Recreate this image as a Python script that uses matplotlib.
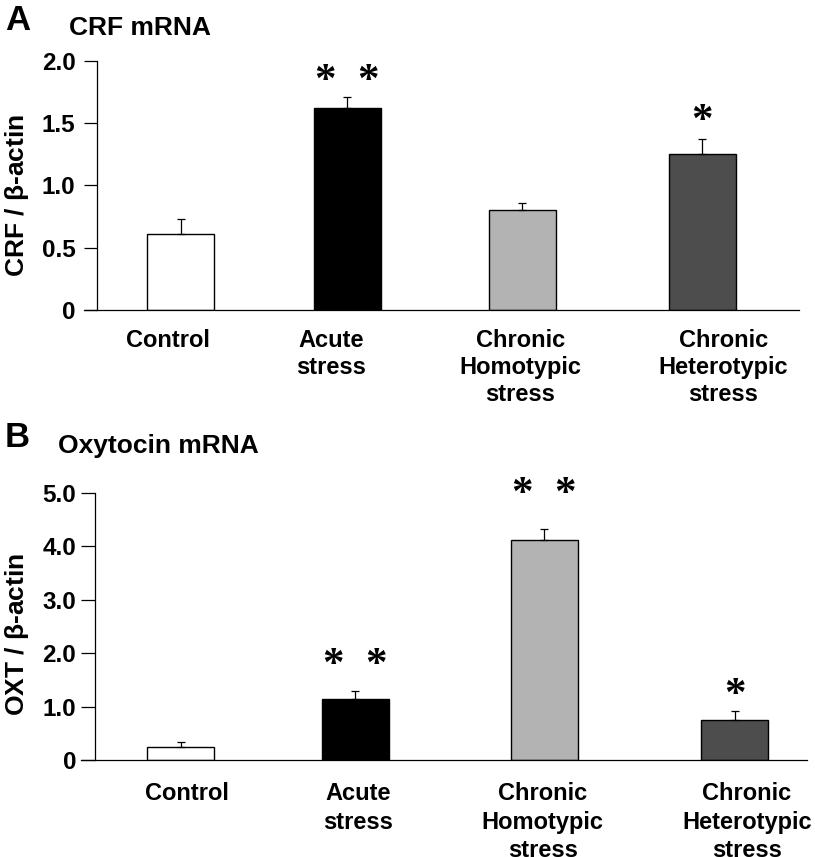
import matplotlib
matplotlib.use("Agg")
import matplotlib.pyplot as plt
import matplotlib.transforms as mtransforms

plt.rcParams['font.family'] = ['Liberation Sans', 'DejaVu Sans']
plt.rcParams['font.weight'] = 'bold'
plt.rcParams['mathtext.fontset'] = 'custom'
plt.rcParams['mathtext.rm'] = 'Liberation Sans'

# ---------------- data ----------------
categories = ["Control", "Acute\nstress", "Chronic\nHomotypic\nstress",
              "Chronic\nHeterotypic\nstress"]
bar_colors = ["#ffffff", "#000000", "#b3b3b3", "#4d4d4d"]

crf_values = [0.61, 1.62, 0.80, 1.25]
crf_errors = [0.12, 0.09, 0.06, 0.12]
crf_marks = ["", "*  *", "", "*"]
crf_ticks = [0, 0.5, 1.0, 1.5, 2.0]
crf_ticklabels = ["0", "0.5", "1.0", "1.5", "2.0"]

oxt_values = [0.24, 1.14, 4.12, 0.75]
oxt_errors = [0.11, 0.16, 0.20, 0.17]
oxt_marks = ["", "*  *", "*  *", "*"]
oxt_ticks = [0, 1, 2, 3, 4, 5]
oxt_ticklabels = ["0", "1.0", "2.0", "3.0", "4.0", "5.0"]

# ---------------- layout ----------------
W, H = 815, 857
fig = plt.figure(figsize=(W / 100, H / 100), dpi=100)


def px_axes(l, t, r, b):
    return fig.add_axes([l / W, 1 - b / H, (r - l) / W, (b - t) / H])


panels = [
    dict(rect=(84, 61, 799, 310), values=crf_values, errors=crf_errors,
         marks=crf_marks, ticks=crf_ticks, ticklabels=crf_ticklabels,
         ylim=2.0, pos=[0.0, 0.98, 2.01, 3.07], unit=170.0, left=0.568,
         spine_px=13, width=0.394, ticklen=9.4, tickpad=6.0,
         label_x=[0.1175, 0.345, 0.61, 0.894], label_dy=-19, lsp=1.23,
         mark_off=[0, 3.6, 0, 5.0],
         ylabel=r"CRF / $\mathrm{\beta}$-actin", ylabel_y=195,
         letter="A", letter_base=30, title="CRF mRNA", title_x=69,
         title_base=35),
    dict(rect=(81, 492.7, 807, 760.3), values=oxt_values, errors=oxt_errors,
         marks=oxt_marks, ticks=oxt_ticks, ticklabels=oxt_ticklabels,
         ylim=5.0, pos=[0.0, 0.97, 2.02, 3.08], unit=180.0, left=0.553,
         spine_px=14, width=0.372, ticklen=10.0, tickpad=3.6,
         label_x=[0.146, 0.3815, 0.636, 0.917], label_dy=-22, lsp=1.3,
         mark_off=[0, 10.8, 17.3, 3.6],
         ylabel=r"OXT / $\mathrm{\beta}$-actin", ylabel_y=634,
         letter="B", letter_base=447, title="Oxytocin mRNA", title_x=58,
         title_base=453),
]

for p in panels:
    l, t, r, b = p["rect"]
    ax = px_axes(l, t, r, b)
    x0 = -p["left"]
    x1 = x0 + (r - l) / p["unit"]
    ax.set_xlim(x0, x1)
    ax.set_ylim(0, p["ylim"])

    ax.bar(p["pos"], p["values"], width=p["width"], color=bar_colors,
           edgecolor="black", linewidth=1.0, zorder=2)
    ax.errorbar(p["pos"], p["values"],
                yerr=[[0] * len(p["errors"]), p["errors"]],
                fmt="none", ecolor="black", elinewidth=0.9, capsize=2.6,
                capthick=0.9, zorder=3)

    for xi, v, e, m, off in zip(p["pos"], p["values"], p["errors"],
                                p["marks"], p["mark_off"]):
        if m:
            ax.annotate(m, xy=(xi, v + e), xytext=(0, off),
                        textcoords="offset points", ha="center",
                        va="baseline", fontsize=31, fontweight="bold",
                        family="Liberation Serif", annotation_clip=False)

    for s in ("top", "right"):
        ax.spines[s].set_visible(False)
    ax.spines["left"].set_position(("data", x0 + p["spine_px"] / p["unit"]))
    ax.spines["left"].set_linewidth(0.9)
    ax.spines["bottom"].set_linewidth(0.9)

    ax.set_xticks([])
    ax.set_yticks(p["ticks"])
    ax.set_yticklabels(p["ticklabels"], fontsize=17.5, fontweight="bold")
    ax.tick_params(axis="y", length=p["ticklen"], width=0.9,
                   pad=p["tickpad"], direction="out")

    tr = mtransforms.offset_copy(ax.transAxes, fig=fig, y=p["label_dy"],
                                 units="dots")
    for lx, cat in zip(p["label_x"], categories):
        ax.text(lx, 0, cat, transform=tr, ha="center", va="top",
                fontsize=17, fontweight="bold", linespacing=p["lsp"],
                multialignment="center")

    fig.text(17 / W, 1 - p["ylabel_y"] / H, p["ylabel"], rotation=90,
             ha="center", va="center", fontsize=19, fontweight="bold")
    fig.text(5 / W, 1 - p["letter_base"] / H, p["letter"], ha="left",
             va="baseline", fontsize=25, fontweight="bold")
    fig.text(p["title_x"] / W, 1 - p["title_base"] / H, p["title"],
             ha="left", va="baseline", fontsize=19, fontweight="bold")

fig.savefig("out.png", dpi=100)
